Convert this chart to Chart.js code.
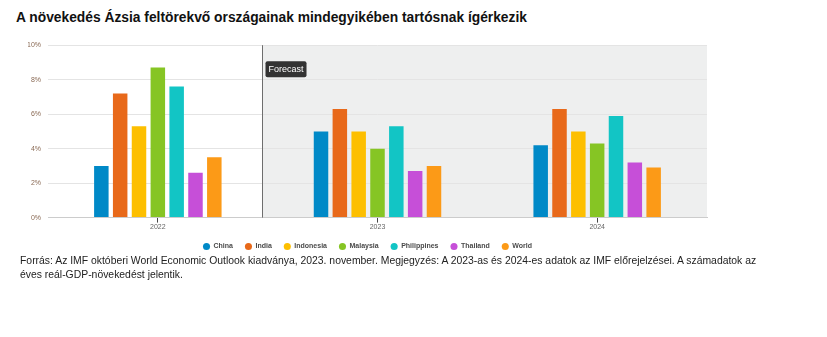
<!DOCTYPE html>
<html><head><meta charset="utf-8">
<script src="https://cdn.jsdelivr.net/npm/chart.js@4.4.1/dist/chart.umd.min.js"></script>
<style>
html,body{margin:0;padding:0;background:#fff;width:827px;height:337px;overflow:hidden;font-family:"Liberation Sans",Arial,sans-serif;}
#title{position:absolute;left:16px;top:10px;font-size:13.8px;font-weight:bold;color:#111;white-space:nowrap;}
#wrap{position:absolute;left:0;top:34px;width:827px;height:226px;}
#foot{position:absolute;left:20px;top:254px;font-size:10.4px;line-height:14px;color:#222;width:800px;}
</style></head><body>
<div id="title">A növekedés Ázsia feltörekvő országainak mindegyikében tartósnak ígérkezik</div>
<div id="wrap"><canvas id="c" width="827" height="226"></canvas></div>
<div id="foot">Forrás: Az IMF októberi World Economic Outlook kiadványa, 2023. november. Megjegyzés: A 2023-as és 2024-es adatok az IMF előrejelzései. A számadatok az<br>éves reál-GDP-növekedést jelentik.</div>
<script>
const categories = ["2022", "2023", "2024"];
const seriesNames = ["China", "India", "Indonesia", "Malaysia", "Philippines", "Thailand", "World"];
const china = [3.0, 5.0, 4.2];
const india = [7.2, 6.3, 6.3];
const indonesia = [5.3, 5.0, 5.0];
const malaysia = [8.7, 4.0, 4.3];
const philippines = [7.6, 5.3, 5.9];
const thailand = [2.6, 2.7, 3.2];
const world = [3.5, 3.0, 2.9];
const colors = ["#0089c7", "#e8691a", "#fdbf00", "#86c524", "#12c5c5", "#c64fd8", "#fc9a17"];
const yTicks = [0, 2, 4, 6, 8, 10];
const forecastLabel = "Forecast";
const forecastStart = 0.475; // in category units (between 2022 and 2023)

const values = [china, india, indonesia, malaysia, philippines, thailand, world];

function forecastX(scales) {
  const x0 = scales.x.getPixelForValue(0), x1 = scales.x.getPixelForValue(1);
  return x0 + (x1 - x0) * forecastStart;
}

const forecastPlugin = {
  id: 'forecast',
  beforeDraw(chart) {
    const {ctx, chartArea, scales} = chart;
    const x = forecastX(scales);
    ctx.save();
    ctx.fillStyle = '#eeefef';
    ctx.fillRect(x, chartArea.top, chartArea.right - x, chartArea.bottom - chartArea.top);
    ctx.restore();
  },
  afterDatasetsDraw(chart) {
    const {ctx, chartArea, scales} = chart;
    const x = Math.round(forecastX(scales)) + 0.5;
    ctx.save();
    ctx.strokeStyle = '#6e6e6e';
    ctx.lineWidth = 1;
    ctx.beginPath();
    ctx.moveTo(x, chartArea.top);
    ctx.lineTo(x, chartArea.bottom);
    ctx.stroke();
    ctx.font = '9px "Liberation Sans", Arial, sans-serif';
    const w = ctx.measureText(forecastLabel).width + 6;
    const bx = x + 3, by = chartArea.top + 16, bh = 16;
    ctx.fillStyle = '#333333';
    ctx.beginPath();
    if (ctx.roundRect) ctx.roundRect(bx, by, w, bh, 2); else ctx.rect(bx, by, w, bh);
    ctx.fill();
    ctx.fillStyle = '#ffffff';
    ctx.textBaseline = 'middle';
    ctx.fillText(forecastLabel, bx + 3, by + bh / 2 + 0.5);
    ctx.restore();
  }
};

new Chart(document.getElementById('c'), {
  type: 'bar',
  data: {
    labels: categories,
    datasets: seriesNames.map((n, i) => ({
      label: n,
      data: values[i],
      backgroundColor: colors[i],
      borderWidth: 0,
      categoryPercentage: 0.6,
      barPercentage: 0.77
    }))
  },
  options: {
    responsive: false,
    animation: false,
    devicePixelRatio: 1,
    layout: {padding: {top: 0, right: 120, left: 28, bottom: 0}},
    plugins: {
      tooltip: {enabled: false},
      legend: {
        position: 'bottom',
        labels: {
          usePointStyle: true,
          pointStyle: 'circle',
          boxWidth: 8,
          boxHeight: 5,
          padding: 12,
          color: '#4a4a4a',
          font: {size: 7, weight: 'bold', family: '"Liberation Sans", Arial, sans-serif'}
        }
      }
    },
    scales: {
      x: {
        grid: {display: true, drawOnChartArea: false, drawTicks: true, tickLength: 5, offset: false, color: '#444'},
        border: {display: true, color: '#cccccc'},
        ticks: {color: '#666', font: {size: 7, family: '"Liberation Sans", Arial, sans-serif'}, padding: 0}
      },
      y: {
        min: 0, max: 10,
        afterBuildTicks(scale) { scale.ticks = yTicks.map(v => ({value: v})); },
        afterFit(scale) { scale.width = 20; },
        grid: {color: '#e4e4e4', drawTicks: false},
        border: {display: false},
        ticks: {
          color: '#8a6a55',
          padding: 7,
          font: {size: 7, family: '"Liberation Sans", Arial, sans-serif'},
          callback: v => v + '%'
        }
      }
    }
  },
  plugins: [forecastPlugin]
});
</script>
</body></html>
